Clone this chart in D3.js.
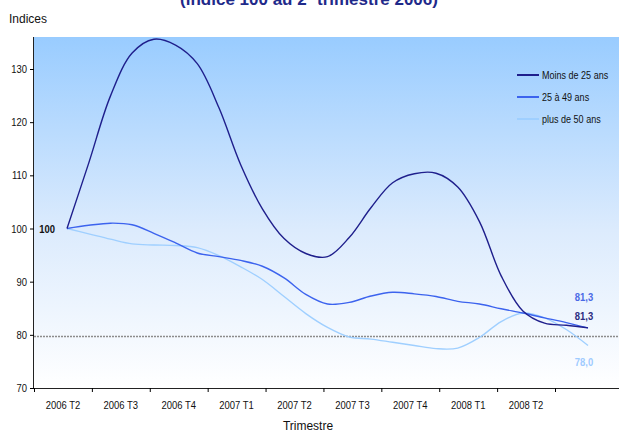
<!DOCTYPE html>
<html>
<head>
<meta charset="utf-8">
<script src="https://cdn.jsdelivr.net/npm/d3@7"></script>
<style>
  body { margin: 0; background: #fff; }
  svg { display: block; }
  .tick text { font-family: "Liberation Sans Narrow", "Arial Narrow", "Liberation Sans", sans-serif; font-size: 11px; fill: #111; }
</style>
</head>
<body>
<svg width="619" height="432"></svg>
<script>
const svg = d3.select("svg");
const width = +svg.attr("width");
const height = +svg.attr("height");

const quarters = ["2006 T2", "2006 T3", "2006 T4", "2007 T1", "2007 T2", "2007 T3", "2007 T4", "2008 T1", "2008 T2"];
const yTicks = [70, 80, 90, 100, 110, 120, 130];

// monthly readings, 2006 T2 -> 2008 T2
const moins25 = [100, 112.3, 124.9, 133, 135.6, 134.5, 131, 122.7, 112, 103.7, 98.1, 95.3, 94.7,
  98.3, 103.9, 108.6, 110.3, 110.4, 107.8, 101.3, 91.1, 84.5, 82.2, 81.8, 81.3];
const de25a49 = [100, 100.6, 101, 100.7, 99.1, 97.3, 95.4, 94.7, 94, 92.9, 90.7, 87.6, 85.8,
  86.1, 87.3, 88, 87.7, 87.2, 86.3, 85.8, 84.9, 84.1, 83.2, 82.3, 81.3];
const plus50 = [100, 99, 98, 97.1, 96.9, 96.8, 96.4, 94.9, 92.8, 90.4, 87.2, 84, 81.4,
  79.6, 79.2, 78.6, 78, 77.4, 77.5, 79.5, 82.5, 84.1, 83.2, 81, 78];
const refLine = 79.7;

const series = [
  { name: "Moins de 25 ans", values: moins25, color: "#1f1f8c", labelColor: "#2b2b80", dy: -12 },
  { name: "25 à 49 ans", values: de25a49, color: "#3c63ee", labelColor: "#4a6ae6", dy: -31 },
  { name: "plus de 50 ans", values: plus50, color: "#9fcfff", labelColor: "#9fcbff", dy: 17 }
];

const plot = { left: 34, top: 37, right: 619, bottom: 388 };
const narrow = "scale(0.86,1)";

const y = d3.scaleLinear().domain([70, 130]).range([plot.bottom, 69]);
const xBand = d3.scaleBand().domain(quarters).range([plot.left, 555]);
const xEdge = d3.scaleLinear().domain([0, quarters.length]).range([plot.left, 555]);
const x = d3.scaleLinear().domain([0, moins25.length - 1]).range([67, 588]);

// background gradient
const grad = svg.append("defs").append("linearGradient")
  .attr("id", "bg").attr("x1", 0).attr("y1", 0).attr("x2", 0).attr("y2", 1);
grad.append("stop").attr("offset", "0%").attr("stop-color", "#99ccff");
grad.append("stop").attr("offset", "55%").attr("stop-color", "#dcebfd");
grad.append("stop").attr("offset", "100%").attr("stop-color", "#ffffff");

svg.append("rect")
  .attr("x", plot.left).attr("y", plot.top)
  .attr("width", plot.right - plot.left).attr("height", plot.bottom - plot.top)
  .attr("fill", "url(#bg)");

// title (cut at the top, as in the source)
const title = svg.append("text")
  .attr("x", 309).attr("y", 5)
  .attr("text-anchor", "middle")
  .attr("font-family", "Liberation Sans, Arial, sans-serif")
  .attr("font-size", 17).attr("font-weight", "bold")
  .attr("fill", "#1f2a8a");
title.append("tspan").text("(indice 100 au 2");
title.append("tspan").attr("baseline-shift", "super").attr("font-size", 10).text("e");
title.append("tspan").text(" trimestre 2006)");

svg.append("text")
  .attr("x", 9).attr("y", 23)
  .attr("font-family", "Liberation Sans, Arial, sans-serif")
  .attr("font-size", 12).attr("fill", "#111")
  .text("Indices");

// reference line near 80
svg.append("line")
  .attr("x1", plot.left).attr("x2", plot.right)
  .attr("y1", y(refLine)).attr("y2", y(refLine))
  .attr("stroke", "#8c8c8c").attr("stroke-width", 1.5)
  .attr("stroke-dasharray", "2,1");

// axes
const yAxis = svg.append("g")
  .attr("transform", `translate(${plot.left},0)`)
  .call(d3.axisLeft(y).tickValues(yTicks).tickSize(4).tickPadding(4));
yAxis.select(".domain").attr("d", `M-0.5,${plot.top}V${plot.bottom}`).attr("stroke", "#222");
yAxis.selectAll(".tick text").attr("transform", narrow);

const xTicks = svg.append("g")
  .attr("transform", `translate(0,${plot.bottom})`)
  .call(d3.axisBottom(xEdge).tickValues(d3.range(quarters.length + 1)).tickSize(4).tickFormat(""));
xTicks.select(".domain").attr("d", `M${plot.left},0.5H${plot.right}`).attr("stroke", "#222");

const xLabels = svg.append("g")
  .attr("transform", `translate(0,${plot.bottom})`)
  .call(d3.axisBottom(xBand).tickSize(0).tickPadding(13));
xLabels.select(".domain").remove();
xLabels.selectAll(".tick text").attr("transform", narrow);

svg.append("text")
  .attr("x", 308).attr("y", 430)
  .attr("text-anchor", "middle")
  .attr("font-family", "Liberation Sans, Arial, sans-serif")
  .attr("font-size", 12).attr("fill", "#111")
  .text("Trimestre");

// lines
const line = d3.line()
  .x((d, i) => x(i))
  .y(d => y(d))
  .curve(d3.curveCatmullRom.alpha(0.5));

series.slice().reverse().forEach(s => {
  svg.append("path")
    .datum(s.values)
    .attr("fill", "none")
    .attr("stroke", s.color)
    .attr("stroke-width", 1.4)
    .attr("d", line);
});

// value labels
const labelFont = "Liberation Sans Narrow, Arial Narrow, Liberation Sans, sans-serif";
svg.append("g")
  .attr("transform", `translate(${x(0) - 12},${y(moins25[0]) + 4})`)
  .append("text")
  .attr("transform", narrow)
  .attr("text-anchor", "end")
  .attr("font-family", labelFont).attr("font-size", 11).attr("font-weight", "bold")
  .attr("fill", "#111")
  .text("100");

series.forEach(s => {
  const last = s.values[s.values.length - 1];
  svg.append("g")
    .attr("transform", `translate(${x(s.values.length - 1) - 4},${y(last) + s.dy + 4})`)
    .append("text")
    .attr("transform", narrow)
    .attr("text-anchor", "middle")
    .attr("font-family", labelFont).attr("font-size", 11).attr("font-weight", "bold")
    .attr("fill", s.labelColor)
    .text(d3.format(".1f")(last).replace(".", ","));
});

// legend
const legend = svg.append("g").attr("transform", "translate(517,75)");
series.forEach((s, i) => {
  const g = legend.append("g").attr("transform", `translate(0,${i * 22})`);
  g.append("line").attr("x1", 0).attr("x2", 22)
    .attr("stroke", s.color).attr("stroke-width", 2);
  g.append("g").attr("transform", "translate(25,3.5)")
    .append("text")
    .attr("transform", narrow)
    .attr("font-family", labelFont).attr("font-size", 10.5)
    .attr("fill", "#111")
    .text(s.name);
});
</script>
</body>
</html>
